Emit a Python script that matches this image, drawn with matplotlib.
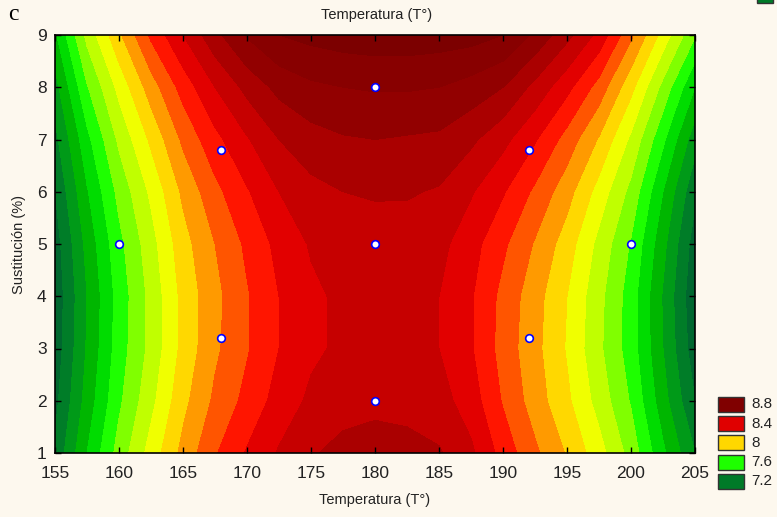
import numpy as np
import matplotlib
matplotlib.use("Agg")
import matplotlib.pyplot as plt
from matplotlib.patches import Rectangle

# ---------------- data ----------------
temperatura = [155, 157.5, 160, 162.5, 165, 167.5, 170, 172.5, 175, 177.5, 180,
               182.5, 185, 187.5, 190, 192.5, 195, 197.5, 200, 202.5, 205]
sustitucion = [1, 2, 3, 4, 5, 6, 7, 8, 9]

resp_y1 = [7.22, 7.50, 7.74, 7.94, 8.13, 8.29, 8.41, 8.51, 8.59, 8.63, 8.65, 8.64, 8.61, 8.52, 8.36, 8.22, 8.09, 7.94, 7.76, 7.52, 7.30]
resp_y2 = [7.17, 7.44, 7.68, 7.87, 8.07, 8.22, 8.33, 8.44, 8.52, 8.56, 8.57, 8.56, 8.54, 8.45, 8.29, 8.15, 8.02, 7.86, 7.69, 7.44, 7.20]
resp_y3 = [7.14, 7.41, 7.65, 7.83, 8.03, 8.18, 8.29, 8.40, 8.48, 8.52, 8.54, 8.53, 8.50, 8.41, 8.26, 8.13, 7.99, 7.82, 7.65, 7.40, 7.14]
resp_y4 = [7.13, 7.40, 7.64, 7.83, 8.03, 8.17, 8.29, 8.40, 8.48, 8.52, 8.53, 8.52, 8.50, 8.41, 8.27, 8.14, 8.00, 7.83, 7.65, 7.39, 7.12]
resp_y5 = [7.15, 7.43, 7.67, 7.86, 8.06, 8.20, 8.32, 8.43, 8.51, 8.545, 8.555, 8.55, 8.53, 8.44, 8.32, 8.19, 8.05, 7.87, 7.69, 7.43, 7.15]
resp_y6 = [7.20, 7.49, 7.73, 7.92, 8.12, 8.27, 8.39, 8.50, 8.57, 8.60, 8.61, 8.61, 8.59, 8.51, 8.41, 8.28, 8.14, 7.96, 7.77, 7.50, 7.22]
resp_y7 = [7.27, 7.57, 7.82, 8.02, 8.22, 8.37, 8.49, 8.60, 8.66, 8.69, 8.70, 8.69, 8.68, 8.62, 8.53, 8.41, 8.26, 8.09, 7.88, 7.62, 7.34]
resp_y8 = [7.36, 7.69, 7.93, 8.15, 8.34, 8.50, 8.63, 8.73, 8.78, 8.80, 8.81, 8.81, 8.80, 8.76, 8.70, 8.57, 8.43, 8.26, 8.03, 7.77, 7.50]
resp_y9 = [7.48, 7.83, 8.08, 8.32, 8.50, 8.67, 8.81, 8.90, 8.93, 8.95, 8.96, 8.96, 8.95, 8.94, 8.90, 8.78, 8.63, 8.47, 8.22, 7.96, 7.71]

# experimental design points
punto_temp = [160, 168, 168, 180, 180, 180, 192, 192, 200]
punto_sust = [5, 3.2, 6.8, 2, 5, 8, 3.2, 6.8, 5]

# contour levels and colours
niveles = [7.0, 7.2, 7.3, 7.4, 7.5, 7.6, 7.7, 7.8, 7.9, 8.0, 8.1, 8.2, 8.3, 8.4,
           8.5, 8.6, 8.7, 8.8, 8.9, 9.1]
colores = ["#00672F", "#007D28", "#009A18", "#00B600", "#00DC00", "#1EFF00",
           "#80FF00", "#C0FF00", "#F0FF00", "#FFD800", "#FF9A00", "#FF5500",
           "#FF1500", "#E20000", "#C60000", "#AA0000", "#920000", "#880000",
           "#7C0000"]

leyenda_valores = ["8.8", "8.4", "8", "7.6", "7.2"]
leyenda_colores = ["#800000", "#E00000", "#FFD700", "#1EFF00", "#007A28"]

# ---------------- figure ----------------
BG = "#FDF8EE"
W, H = 777, 517
fig = plt.figure(figsize=(W / 100, H / 100), dpi=100, facecolor=BG)
plt.rcParams["font.family"] = ["Liberation Sans", "DejaVu Sans"]

ax = fig.add_axes([55 / W, (H - 453) / H, 640 / W, 418 / H])
Z = np.array([resp_y1, resp_y2, resp_y3, resp_y4, resp_y5,
              resp_y6, resp_y7, resp_y8, resp_y9])
X, Y = np.meshgrid(temperatura, sustitucion)
ax.contourf(X, Y, Z, levels=niveles, colors=colores, antialiased=False)

ax.plot(punto_temp, punto_sust, linestyle="none", marker="o", markersize=5.5,
        markerfacecolor="white", markeredgecolor="#0000FF", markeredgewidth=1.2,
        zorder=5)

ax.set_xlim(155, 205)
ax.set_ylim(1, 9)
ax.set_xticks(np.arange(155, 206, 5))
ax.set_yticks(np.arange(1, 10, 1))
ax.tick_params(direction="in", length=4, width=1, top=True, right=True,
               labelsize=12.5, labelcolor="#222222")
ax.tick_params(axis="x", pad=9)
ax.tick_params(axis="y", pad=6)
for s in ax.spines.values():
    s.set_color("black")
    s.set_linewidth(1.2)

ax.set_xlabel("Temperatura (T°)", fontsize=10.5, color="#222222", labelpad=9)
ax.set_ylabel("Sustitución (%)", fontsize=10.5, color="#222222", labelpad=8)
fig.text(377 / W, 1 - 15 / H, "Temperatura (T°)", ha="center", va="center",
         fontsize=10.5, color="#222222")
fig.text(8 / W, 1 - 14 / H, "c", ha="left", va="center", fontsize=17,
         family=["Liberation Serif", "DejaVu Serif"], color="black")

# legend
for i, (lab, col) in enumerate(zip(leyenda_valores, leyenda_colores)):
    top = 397 + i * 19.2
    fig.patches.append(Rectangle((718 / W, 1 - (top + 15) / H), 26 / W, 15 / H,
                                 transform=fig.transFigure, facecolor=col,
                                 edgecolor="#333333", linewidth=1.0))
    fig.text(751 / W, 1 - (top + 7.5) / H, lab, ha="left", va="center",
             fontsize=11, color="#222222")
# cut-off legend patch at the top-right corner
fig.patches.append(Rectangle((757 / W, 1 - 2.5 / H), 16 / W, 15 / H,
                             transform=fig.transFigure, facecolor="#007A28",
                             edgecolor="#333333", linewidth=1.0))

fig.savefig("out.png", dpi=100, facecolor=BG)
